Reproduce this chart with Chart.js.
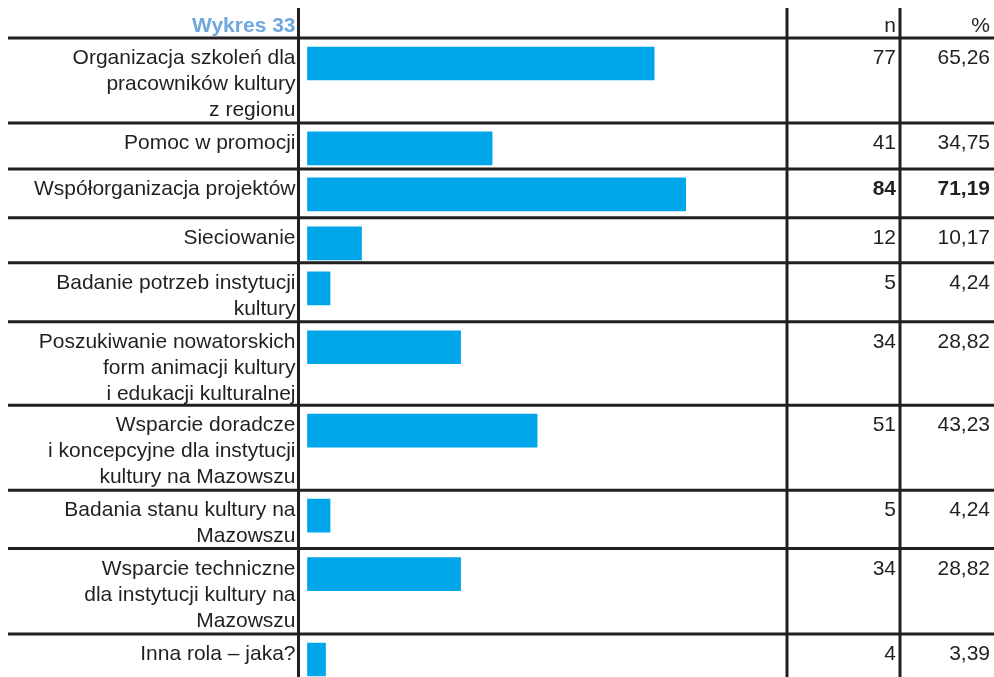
<!DOCTYPE html>
<html lang="pl">
<head>
<meta charset="utf-8">
<script src="https://cdn.jsdelivr.net/npm/chart.js@4.4.1/dist/chart.umd.min.js"></script>
<style>
  html, body { margin: 0; padding: 0; background: #fff; }
  #wrap { width: 994px; height: 677px; }
</style>
</head>
<body>
<div id="wrap"><canvas id="wykres" width="994" height="677"></canvas></div>
<script>
// --- dane ---
const tytul = 'Wykres 33';
const naglowki = ['n', '%'];
const kategorie = [
    ['Organizacja szkoleń dla', 'pracowników kultury', 'z regionu'],
    ['Pomoc w promocji'],
    ['Współorganizacja projektów'],
    ['Sieciowanie'],
    ['Badanie potrzeb instytucji', 'kultury'],
    ['Poszukiwanie nowatorskich', 'form animacji kultury', 'i edukacji kulturalnej'],
    ['Wsparcie doradcze', 'i koncepcyjne dla instytucji', 'kultury na Mazowszu'],
    ['Badania stanu kultury na', 'Mazowszu'],
    ['Wsparcie techniczne', 'dla instytucji kultury na', 'Mazowszu'],
    ['Inna rola – jaka?']
];
const liczebnosci = [77, 41, 84, 12, 5, 34, 51, 5, 34, 4];
const procenty = [65.26, 34.75, 71.19, 10.17, 4.24, 28.82, 43.23, 4.24, 28.82, 3.39];

// --- układ tabeli ---
const wysokosciWierszy = [85, 46, 49, 45, 59, 83.5, 85, 58.5, 85.5, 43];
const KOL_ETYKIETY = 298.5;   // linia między etykietami a słupkami
const KOL_N = 787;            // koniec obszaru słupków
const KOL_PROC = 900;         // linia między n a %
const GORA_TABELI = 38;
const ODSTEP_SLUPKA = 9;
const GRUBOSC_SLUPKA = 33;
const KOLOR_LINII = '#231f20';
const KOLOR_TEKSTU = '#231f20';
const FONT = '"Liberation Sans", Arial, sans-serif';

const poczatki = [];
let sumaWysokosci = 0;
wysokosciWierszy.forEach(h => { poczatki.push(sumaWysokosci); sumaWysokosci += h; });

const maxN = Math.max(...liczebnosci);
const formatProc = v => v.toFixed(2).replace('.', ',');

// linie tabeli, etykiety i kolumny liczbowe
const tabelaPlugin = {
    id: 'tabela',
    afterDatasetsDraw(chart) {
        const ctx = chart.ctx;
        const y = chart.scales.y;
        const W = chart.width, H = chart.height;

        ctx.save();
        ctx.strokeStyle = KOLOR_LINII;
        ctx.lineWidth = 3;
        ctx.beginPath();
        // linia pod nagłówkiem
        ctx.moveTo(8, GORA_TABELI);
        ctx.lineTo(W, GORA_TABELI);
        // granice wierszy
        for (let i = 1; i < poczatki.length; i++) {
            const py = y.getPixelForValue(poczatki[i]);
            ctx.moveTo(8, py);
            ctx.lineTo(W, py);
        }
        // linie pionowe
        [KOL_ETYKIETY, KOL_N, KOL_PROC].forEach(px => {
            ctx.moveTo(px, 8);
            ctx.lineTo(px, H);
        });
        ctx.stroke();

        // nagłówek
        ctx.textAlign = 'right';
        ctx.textBaseline = 'alphabetic';
        ctx.font = 'bold 21px ' + FONT;
        ctx.fillStyle = '#6fa8dc';
        ctx.fillText(tytul, KOL_ETYKIETY - 3, 32);
        ctx.font = '21px ' + FONT;
        ctx.fillStyle = KOLOR_TEKSTU;
        ctx.fillText(naglowki[0], KOL_PROC - 4, 32);
        ctx.fillText(naglowki[1], W - 4, 32);

        // wiersze
        kategorie.forEach((linie, i) => {
            const gora = y.getPixelForValue(poczatki[i]);
            ctx.font = '21px ' + FONT;
            ctx.fillStyle = KOLOR_TEKSTU;
            linie.forEach((tekst, j) => {
                ctx.fillText(tekst, KOL_ETYKIETY - 3, gora + 26 + j * 26);
            });
            ctx.font = (liczebnosci[i] === maxN ? 'bold ' : '') + '21px ' + FONT;
            ctx.fillText(String(liczebnosci[i]), KOL_PROC - 4, gora + 26);
            ctx.fillText(formatProc(procenty[i]), W - 4, gora + 26);
        });
        ctx.restore();
    }
};

new Chart(document.getElementById('wykres'), {
    type: 'bar',
    data: {
        datasets: [{
            data: liczebnosci.map((n, i) => ({ x: n, y: poczatki[i] + ODSTEP_SLUPKA + GRUBOSC_SLUPKA / 2 })),
            backgroundColor: '#00a6ea',
            borderWidth: 0,
            barThickness: GRUBOSC_SLUPKA
        }]
    },
    options: {
        indexAxis: 'y',
        responsive: false,
        animation: false,
        devicePixelRatio: 1,
        layout: {
            padding: { left: KOL_ETYKIETY, right: 994 - KOL_N, top: GORA_TABELI, bottom: 0 }
        },
        scales: {
            x: { type: 'linear', min: -2, max: 106.5, offset: false, display: false },
            y: { type: 'linear', min: 0, max: sumaWysokosci, reverse: true, offset: false, display: false }
        },
        plugins: {
            legend: { display: false },
            tooltip: { enabled: false }
        }
    },
    plugins: [tabelaPlugin]
});
</script>
</body>
</html>
